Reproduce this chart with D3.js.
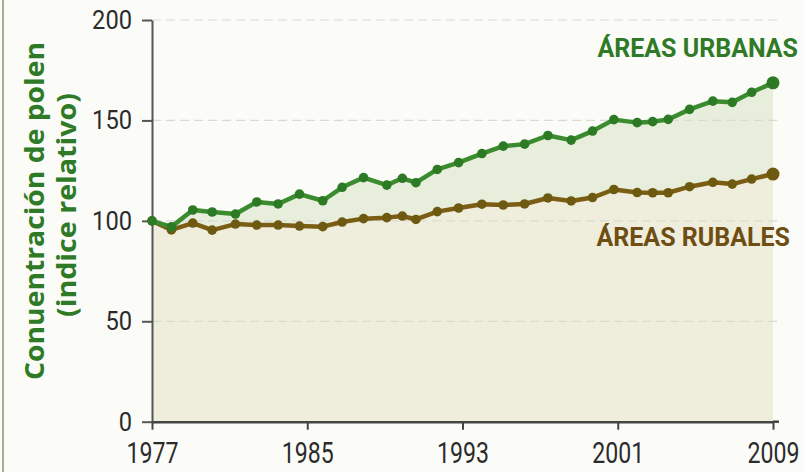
<!DOCTYPE html>
<html>
<head>
<meta charset="utf-8">
<script src="https://cdn.jsdelivr.net/npm/d3@7"></script>
<style>
  body { margin: 0; background: #fbfbf8; }
  svg { display: block; }
</style>
</head>
<body>
<svg id="chart" width="804" height="472"></svg>
<script>
// Data read from the picture (years are estimated from marker positions)
const years = [1977.0, 1978.0, 1979.1, 1980.1, 1981.3, 1982.4, 1983.5, 1984.6, 1985.8, 1986.8,
               1987.9, 1989.1, 1989.9, 1990.6, 1991.7, 1992.8, 1994.0, 1995.1, 1996.2, 1997.4,
               1998.6, 1999.7, 2000.8, 2002.0, 2002.8, 2003.6, 2004.7, 2005.9, 2006.9, 2007.9, 2009.0];
const urban = [100, 97, 105.4, 104.4, 103.4, 109.4, 108.4, 113.3, 110, 116.7,
               121.5, 117.8, 121.2, 119, 125.6, 129, 133.5, 137.2, 138.2, 142.5,
               140.2, 144.7, 150.4, 148.9, 149.4, 150.5, 155.5, 159.6, 159, 164, 168.7];
const rural = [100, 95.5, 98.9, 95.4, 98.4, 97.9, 97.9, 97.4, 97.1, 99.4,
               101.1, 101.6, 102.4, 100.7, 104.6, 106.4, 108.3, 107.9, 108.4, 111.4,
               109.9, 111.6, 115.6, 114.1, 114, 114, 117, 119.2, 118.3, 120.8, 123.3];
const yTicks = [0, 50, 100, 150, 200];
const xTicks = [1977, 1985, 1993, 2001, 2009];
const yTitle = ['Conuentración de polen', '(indice relativo)'];
const seriesLabels = ['ÁREAS URBANAS', 'ÁREAS RUBALES'];

const rows = years.map((yr, i) => ({ year: yr, urban: urban[i], rural: rural[i] }));

const svg = d3.select('#chart');
const x = d3.scaleLinear().domain([1977, 2009]).range([152, 773]);
const y = d3.scaleLinear().domain([0, 200]).range([421.7, 20]);

const GREEN = '#3b8b2f';
const GREEN_DARK = '#2c7a24';
const BROWN = '#7b5d14';
const BROWN_DARK = '#6d5a10';
const NARROW = 'Roboto, "DejaVu Sans Condensed", sans-serif';

// left frame line
svg.append('line')
    .attr('x1', 3).attr('x2', 3).attr('y1', 0).attr('y2', 472)
    .attr('stroke', '#9fae90').attr('stroke-width', 2);

// area fills
svg.append('path')
    .datum(rows)
    .attr('fill', '#e7efdc')
    .attr('d', d3.area().x(d => x(d.year)).y0(d => y(d.rural)).y1(d => y(d.urban)));

svg.append('path')
    .datum(rows)
    .attr('fill', '#efeedd')
    .attr('d', d3.area().x(d => x(d.year)).y0(y(0)).y1(d => y(d.rural)));

// dashed gridlines
svg.append('g')
    .selectAll('line')
    .data(yTicks.filter(v => v > 0))
    .join('line')
    .attr('x1', x(1977)).attr('x2', 782)
    .attr('y1', d => y(d)).attr('y2', d => y(d))
    .attr('stroke', '#d9dbd2').attr('stroke-width', 1.2)
    .attr('stroke-dasharray', '9,5');

// axes
const yAxis = svg.append('g')
    .attr('transform', `translate(${x(1977)},0)`)
    .call(d3.axisLeft(y).tickValues(yTicks).tickSize(10).tickSizeOuter(0).tickPadding(10));
yAxis.select('.domain').attr('stroke', '#555').attr('stroke-width', 2);
yAxis.selectAll('.tick line').attr('stroke', '#555').attr('stroke-width', 2);
yAxis.selectAll('.tick text')
    .attr('font-family', NARROW)
    .attr('font-size', 26).attr('fill', '#2b2b2b')
    .attr('textLength', d => String(d).length * 13.3)
    .attr('lengthAdjust', 'spacingAndGlyphs');

const xAxis = svg.append('g')
    .attr('transform', `translate(0,${y(0)})`)
    .call(d3.axisBottom(x).tickValues(xTicks).tickFormat(d3.format('d')).tickSize(8).tickSizeOuter(0).tickPadding(12));
xAxis.select('.domain').attr('stroke', '#444').attr('stroke-width', 2.5);
xAxis.selectAll('.tick line').attr('stroke', '#444').attr('stroke-width', 2);
xAxis.selectAll('.tick text')
    .attr('font-family', NARROW)
    .attr('font-size', 30).attr('fill', '#2b2b2b')
    .attr('textLength', 52)
    .attr('lengthAdjust', 'spacingAndGlyphs');
svg.append('line')
    .attr('x1', x(2009)).attr('x2', x(2009) + 6)
    .attr('y1', y(0)).attr('y2', y(0))
    .attr('stroke', '#444').attr('stroke-width', 2.5);

// lines and markers
const series = [
    { key: 'rural', color: BROWN, dark: BROWN_DARK },
    { key: 'urban', color: GREEN, dark: GREEN_DARK }
];
series.forEach(s => {
    svg.append('path')
        .datum(rows)
        .attr('fill', 'none')
        .attr('stroke', s.color)
        .attr('stroke-width', 4.5)
        .attr('stroke-linejoin', 'round')
        .attr('d', d3.line().x(d => x(d.year)).y(d => y(d[s.key])));
    svg.append('g')
        .selectAll('circle')
        .data(rows)
        .join('circle')
        .attr('cx', d => x(d.year))
        .attr('cy', d => y(d[s.key]))
        .attr('r', (d, i) => i === rows.length - 1 ? 6.5 : 4.8)
        .attr('fill', s.dark);
});

// series labels
svg.append('text')
    .attr('x', 798).attr('y', 57)
    .attr('text-anchor', 'end')
    .attr('font-family', 'Roboto, sans-serif').attr('font-weight', 700)
    .attr('font-size', 25).attr('fill', '#2f7a27')
    .text(seriesLabels[0]);
svg.append('text')
    .attr('x', 790).attr('y', 246)
    .attr('text-anchor', 'end')
    .attr('font-family', 'Roboto, sans-serif').attr('font-weight', 700)
    .attr('font-size', 25).attr('fill', '#6e4e12')
    .text(seriesLabels[1]);

// y axis title
svg.append('text')
    .attr('transform', 'translate(44,211) rotate(-90)')
    .attr('text-anchor', 'middle')
    .attr('font-family', '"Open Sans", sans-serif').attr('font-weight', 700)
    .attr('font-size', 27).attr('fill', '#2f7a27')
    .attr('textLength', 338).attr('lengthAdjust', 'spacingAndGlyphs')
    .text(yTitle[0]);
svg.append('text')
    .attr('transform', 'translate(76,205) rotate(-90)')
    .attr('text-anchor', 'middle')
    .attr('font-family', '"Open Sans", sans-serif').attr('font-weight', 700)
    .attr('font-size', 27).attr('fill', '#2f7a27')
    .attr('textLength', 224).attr('lengthAdjust', 'spacingAndGlyphs')
    .text(yTitle[1]);
</script>
</body>
</html>
